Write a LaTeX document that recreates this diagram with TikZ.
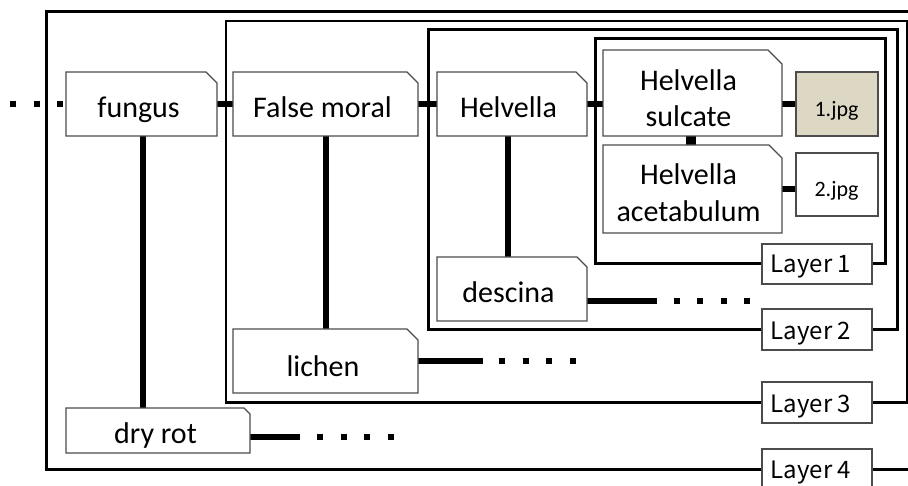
\documentclass[tikz,border=0pt]{standalone}
\usepackage{fontspec}
\setmainfont{Carlito}
\newfontfamily\layerfont{Noto Sans CJK KR}
\definecolor{jpgfill}{RGB}{221,216,196}
\tikzset{
  frame/.style={line width=3pt},
  conn/.style={line width=6pt},
  dotconn/.style={line width=6pt, dash pattern=on 6pt off 17.5pt},
  anchorbox/.style={inner sep=0pt, outer sep=0pt, draw=none},
  outline/.style={draw=black!70, line width=1.3pt, fill=white},
  txt/.style={font=\fontsize{30}{36}\selectfont, inner sep=0pt, anchor=base},
  smalltxt/.style={font=\fontsize{22}{26}\selectfont, inner sep=0pt, anchor=base},
  layertxt/.style={font=\layerfont\fontsize{24}{28}\selectfont, inner sep=0pt, anchor=base},
}
\newcommand\foldbox[2]{\path[outline] (#2.north west) -- ([xshift=-#1pt]#2.north east) -- ([yshift=-#1pt]#2.north east) -- (#2.south east) -- (#2.south west) -- cycle;}
\begin{document}
\begin{tikzpicture}[x=1pt,y=-1pt]
\useasboundingbox (0,0) rectangle (908,486);
% invisible anchor nodes
\node[anchorbox, minimum width=151pt, minimum height=64pt] (fungus) at (141.5,104) {};
\node[anchorbox, minimum width=185pt, minimum height=64pt] (falsemoral) at (325.5,104) {};
\node[anchorbox, minimum width=150pt, minimum height=64pt] (helvella) at (512,104) {};
\node[anchorbox, minimum width=179pt, minimum height=86pt] (sulcate) at (692.5,93) {};
\node[anchorbox, minimum width=179pt, minimum height=88pt] (acet) at (692.5,189) {};
\node[anchorbox, minimum width=82pt, minimum height=64pt] (jpg1) at (837,104) {};
\node[anchorbox, minimum width=82pt, minimum height=63pt] (jpg2) at (837,184.5) {};
\node[anchorbox, minimum width=150pt, minimum height=64pt] (descina) at (512,289) {};
\node[anchorbox, minimum width=185pt, minimum height=64pt] (lichen) at (325.5,361) {};
\node[anchorbox, minimum width=184pt, minimum height=45pt] (dryrot) at (158,430.5) {};
\node[anchorbox, minimum width=110pt, minimum height=40pt] (L1) at (817,264) {};
\node[anchorbox, minimum width=110pt, minimum height=41pt] (L2) at (817,329.5) {};
\node[anchorbox, minimum width=110pt, minimum height=41pt] (L3) at (817,402.5) {};
\node[anchorbox, minimum width=110pt, minimum height=40pt] (L4) at (817,469) {};
% layer frames
\draw[frame] (908,12) -- (46,12) -- (46,469) -- (L4.west);
\draw[frame] (L4.east) -- (908,469);
\draw[frame, line width=2.5pt] (L3.west) -- (226,402.5) -- (226,21) -- (907,21) -- (907,402.5) -- (L3.east);
\draw[frame] (L2.west) -- (428,329.5) -- (428,30) -- (897,30) -- (897,329.5) -- (L2.east);
\draw[frame] (L1.west) -- (595,264) -- (595,39) -- (885,39) -- (885,264) -- (L1.east);
% connectors
\coordinate (leftend) at (10,104);
\draw[dotconn] (leftend) -- ([xshift=-3pt]fungus.west);
\draw[conn] (fungus.east) -- (falsemoral.west);
\draw[conn] (falsemoral.east) -- (helvella.west);
\draw[conn] (helvella.east) -- (helvella.east -| sulcate.west);
\draw[conn] (sulcate.east |- jpg1.west) -- (jpg1.west);
\draw[conn] (acet.east) -- (acet.east -| jpg2.west);
\draw[line width=10pt] ([xshift=-2pt]sulcate.south) -- ([xshift=-2pt]acet.north);
\draw[conn] ([xshift=1.5pt]fungus.south) -- ([xshift=1.5pt]fungus.south |- dryrot.north);
\draw[conn] (falsemoral.south) -- (lichen.north);
\draw[conn] ([xshift=-4pt]helvella.south) -- ([xshift=-4pt]descina.north);
\draw[conn] ([yshift=-12pt]descina.east) -- ++(70,0) coordinate (dend);
\draw[dotconn, dash pattern=on 6pt off 17.33pt] ([xshift=17pt]dend) -- ++(76,0);
\draw[conn] (lichen.east) -- ++(65,0) coordinate (lend);
\draw[dotconn, dash pattern=on 6pt off 17.67pt] ([xshift=16pt]lend) -- ++(77,0);
\draw[conn] ([yshift=-6pt]dryrot.east) -- ++(50,0) coordinate (rend);
\draw[dotconn, dash pattern=on 6pt off 17.67pt] ([xshift=17pt]rend) -- ++(77,0);
% boxes
\foldbox{11}{fungus}
\foldbox{11}{falsemoral}
\foldbox{11}{helvella}
\foldbox{14}{sulcate}
\foldbox{13}{acet}
\foldbox{10}{descina}
\foldbox{11}{lichen}
\foldbox{6}{dryrot}
\path[outline, fill=jpgfill] (jpg1.south west) rectangle (jpg1.north east);
\path[outline] (jpg2.south west) rectangle (jpg2.north east);
\foreach \n in {L1,L2,L3,L4} {\path[outline] (\n.south west) rectangle (\n.north east);}
% texts
\node[txt] (tfungus) at (138.5,118) {fungus};
\node[txt] (tfalse) at (322.5,118) {False moral};
\node[txt] (thelv) at (508.5,118) {Helvella};
\node[txt] (tsul1) at (688.5,91) {Helvella};
\node[txt] (tsul2) at (688.5,127) {sulcate};
\node[txt] (tace1) at (688.5,185) {Helvella};
\node[txt] (tace2) at (688.5,222) {acetabulum};
\node[txt] (tdesc) at (508.5,303) {descina};
\node[txt] (tlich) at (323,377) {lichen};
\node[txt] (tdry) at (155.5,443) {dry rot};
\node[smalltxt] (tj1) at (836.5,117) {1.jpg};
\node[smalltxt] (tj2) at (836.5,197) {2.jpg};
\node[layertxt] (tl1) at (811,273) {Layer 1};
\node[layertxt] (tl2) at (811,340) {Layer 2};
\node[layertxt] (tl3) at (811,412) {Layer 3};
\node[layertxt] (tl4) at (811,478) {Layer 4};
\end{tikzpicture}
\end{document}
